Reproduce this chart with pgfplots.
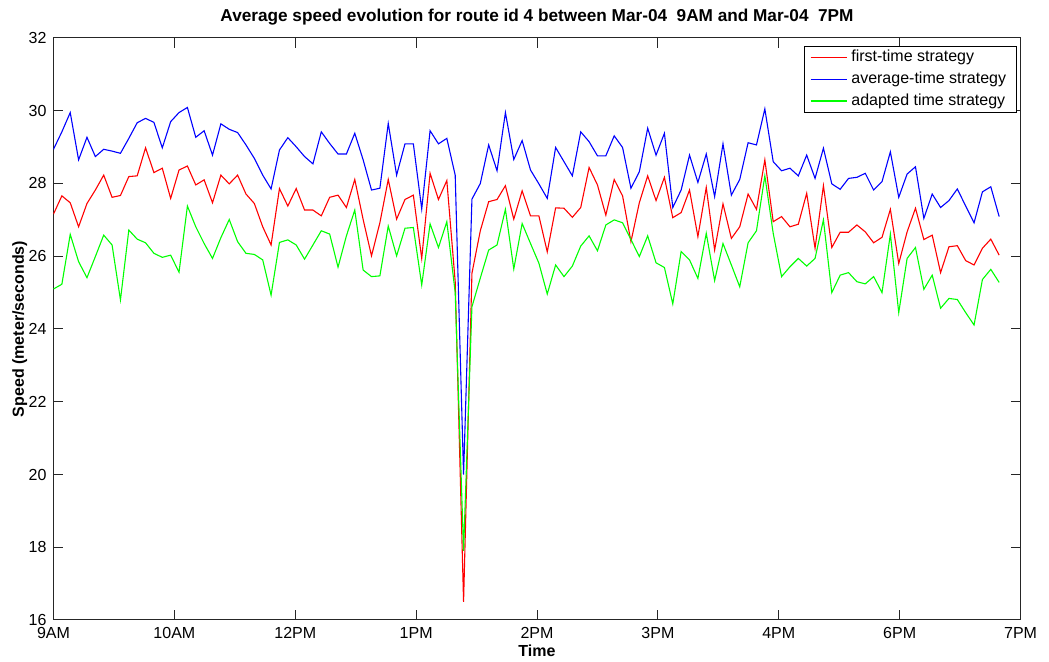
\documentclass[border=0pt]{standalone}
\usepackage{pgfplots}
\pgfplotsset{compat=1.18}
\usepackage{pgfplotstable}
\usepackage{fontspec}
\setmainfont{Liberation Sans}

% i = sample index, speeds in m/s
\pgfplotstableread{
i first avg adapted
0 27.16 28.94 25.10
1 27.66 29.42 25.23
2 27.47 29.95 26.60
3 26.81 28.65 25.85
4 27.45 29.27 25.41
5 27.82 28.74 25.99
6 28.23 28.94 26.58
7 27.62 28.89 26.31
8 27.67 28.83 24.80
9 28.19 29.24 26.72
10 28.21 29.67 26.47
11 28.98 29.79 26.37
12 28.30 29.68 26.08
13 28.42 28.98 25.97
14 27.59 29.70 26.03
15 28.37 29.95 25.56
16 28.48 30.09 27.38
17 27.96 29.27 26.81
18 28.10 29.45 26.35
19 27.47 28.78 25.94
20 28.23 29.64 26.51
21 27.99 29.49 27.01
22 28.23 29.40 26.40
23 27.71 29.06 26.08
24 27.45 28.69 26.05
25 26.81 28.23 25.90
26 26.31 27.85 24.93
27 27.86 28.92 26.38
28 27.38 29.26 26.45
29 27.86 29.01 26.31
30 27.27 28.74 25.92
31 27.27 28.54 26.31
32 27.11 29.42 26.70
33 27.62 29.10 26.61
34 27.68 28.81 25.70
35 27.34 28.81 26.56
36 28.11 29.38 27.27
37 27.01 28.65 25.62
38 26.01 27.82 25.44
39 26.92 27.87 25.46
40 28.11 29.65 26.83
41 27.02 28.23 26.01
42 27.56 29.09 26.77
43 27.68 29.09 26.79
44 25.94 27.30 25.21
45 28.28 29.45 26.89
46 27.56 29.09 26.24
47 28.08 29.24 26.95
48 25.30 28.23 25.00
49 16.50 20.00 17.90
50 25.53 27.57 24.61
51 26.70 28.00 25.40
52 27.50 29.06 26.17
53 27.56 28.35 26.31
54 27.94 29.95 27.29
55 27.02 28.66 25.65
56 27.80 29.18 26.90
57 27.11 28.37 26.35
58 27.11 27.99 25.81
59 26.12 27.59 24.96
60 27.33 28.99 25.76
61 27.32 28.60 25.44
62 27.07 28.21 25.73
63 27.34 29.42 26.28
64 28.44 29.15 26.56
65 27.96 28.76 26.15
66 27.13 28.76 26.86
67 28.11 29.31 27.00
68 27.66 28.99 26.92
69 26.40 27.87 26.46
70 27.47 28.32 25.99
71 28.21 29.52 26.56
72 27.53 28.78 25.82
73 28.17 29.38 25.69
74 27.06 27.34 24.69
75 27.20 27.82 26.13
76 27.82 28.78 25.90
77 26.54 28.03 25.39
78 27.89 28.81 26.63
79 26.17 27.64 25.33
80 27.44 29.09 26.35
81 26.49 27.68 25.76
82 26.81 28.11 25.16
83 27.71 29.12 26.37
84 27.29 29.06 26.70
85 28.65 30.05 28.21
86 26.95 28.60 26.63
87 27.09 28.35 25.44
88 26.81 28.42 25.71
89 26.88 28.21 25.94
90 27.73 28.78 25.73
91 26.22 28.14 25.94
92 27.94 28.97 27.00
93 26.24 27.99 25.00
94 26.66 27.84 25.48
95 26.66 28.14 25.55
96 26.86 28.17 25.30
97 26.67 28.28 25.24
98 26.37 27.82 25.44
99 26.52 28.05 25.00
100 27.29 28.87 26.61
101 25.80 27.62 24.45
102 26.67 28.26 25.94
103 27.32 28.46 26.24
104 26.46 27.04 25.09
105 26.58 27.71 25.48
106 25.55 27.34 24.57
107 26.26 27.53 24.84
108 26.29 27.85 24.81
109 25.88 27.38 24.45
110 25.76 26.92 24.11
111 26.22 27.77 25.36
112 26.47 27.91 25.64
113 26.03 27.09 25.28
}\speed

\begin{document}
\begin{tikzpicture}
\path[use as bounding box] (-26.75pt,-21pt) rectangle (497.75pt,310pt);
\begin{axis}[
	at={(0pt,0pt)}, anchor=south west,
	scale only axis,
	width=483.5pt,
	height=291pt,
	xmin=0, xmax=115.55,
	ymin=16, ymax=32,
	xtick={0,14.444,28.889,43.333,57.778,72.222,86.667,101.111,115.555},
	xticklabels={9AM,10AM,12PM,1PM,2PM,3PM,4PM,6PM,7PM},
	ytick={16,18,...,32},
	axis line style={black!85, line width=0.5pt},
	tick style={black!85, line width=0.5pt},
	major tick length=5pt,
	ticklabel style={font=\fontsize{8}{9}\selectfont},
	/pgf/number format/assume math mode=true,
	xticklabel style={anchor=base, yshift=-9.5pt},
	every axis title shift=0pt,
	title={Average speed evolution for route id 4 between Mar-04\ \ 9AM and Mar-04\ \ 7PM},
	title style={font=\bfseries\fontsize{8.6}{10}\selectfont, at={(rel axis cs:0.5,1)}, anchor=base, yshift=8pt},
	xlabel={Time},
	xlabel style={font=\bfseries\fontsize{8}{9}\selectfont, at={(rel axis cs:0.5,0)}, anchor=base, yshift=-18.5pt},
	ylabel={Speed (meter/seconds)},
	ylabel style={font=\bfseries\fontsize{8}{9}\selectfont, at={(rel axis cs:0,0.5)}, anchor=base, yshift=14.75pt},
	legend style={at={(rel axis cs:1,1)}, anchor=north east, xshift=-2pt, yshift=-4pt,
		font=\fontsize{8}{9}\selectfont, fill=white,
		nodes={inner ysep=1.2pt}, row sep=1.1pt, inner xsep=3pt, inner ysep=0.8pt},
	legend cell align=left,
	legend image code/.code={\draw[#1, line width=0.65pt] (0pt,0pt) -- (18pt,0pt);},
	]
	\addplot [red, line width=0.55pt] table [x=i, y=first] {\speed};
	\addlegendentry{first-time strategy}
	\addplot [blue, line width=0.55pt] table [x=i, y=avg] {\speed};
	\addlegendentry{average-time strategy}
	\addplot [green, line width=0.55pt] table [x=i, y=adapted] {\speed};
	\addlegendentry{adapted time strategy}
\end{axis}
\end{tikzpicture}
\end{document}
